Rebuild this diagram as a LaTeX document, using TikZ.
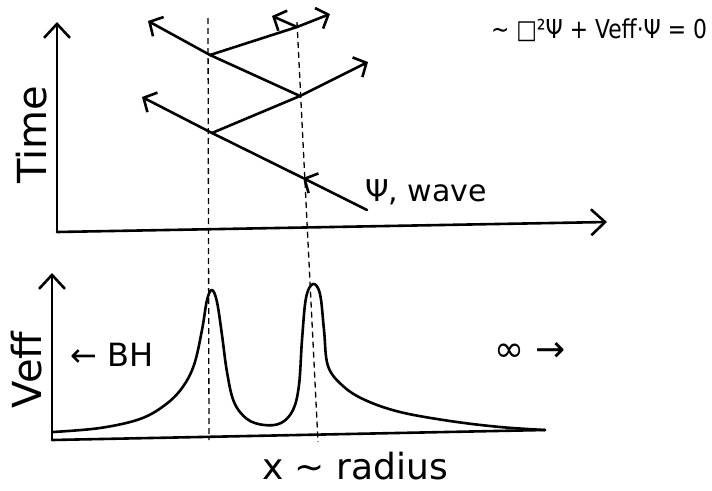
\documentclass[tikz,border=0pt]{standalone}
\usepackage{fontspec}
\setmainfont{DejaVu Sans}
\usetikzlibrary{arrows.meta}
\begin{document}
\begin{tikzpicture}[x=1pt,y=-1pt,
  ink/.style={line width=2.6pt, line cap=round, line join=round},
  axarrow/.style={ink, -{Straight Barb[length=14pt,width=26pt,line width=2.6pt]}},
  wavearrow/.style={ink, -{Straight Barb[length=10pt,width=22pt,line width=2.6pt]}},
  guide/.style={line width=1.3pt, dash pattern=on 6pt off 4pt},
  lbl/.style={font=\fontsize{32}{34}\selectfont, inner sep=0pt}]
\useasboundingbox (0,0) rectangle (712,490);
% axes top
\coordinate (tO) at (57,232);
\coordinate (tY) at (57,22);
\coordinate (tX) at (607,222);
\draw[axarrow] (tO) -- (tY);
\draw[axarrow] (tO) -- (tX);
% axes bottom
\coordinate (bO) at (52,440);
\coordinate (bY) at (52,273);
\coordinate (bX) at (545,430);
\draw[axarrow] (bO) -- (bY);
\draw[ink] (bO) -- (bX);
% dashed guides
\coordinate (d1t) at (208,18);
\coordinate (d1b) at (209,440);
\coordinate (d2t) at (297,22);
\coordinate (d2b) at (318,442);
\draw[guide] (d1t) -- (d1b);
\draw[guide] (d2t) -- (d2b);
% wave
\coordinate (w0) at (367,210);
\coordinate (h1) at (303,178);
\coordinate (r1) at (212,133);
\coordinate (l1) at (142,97);
\coordinate (h2) at (300,96);
\coordinate (o1) at (368,62);
\coordinate (r2) at (210,55);
\coordinate (l2) at (148,21);
\coordinate (h3) at (297,27);
\coordinate (o2) at (330,14);
\coordinate (o3) at (272,16);
\draw[wavearrow] (w0) -- (h1);
\draw[ink] (h1) -- (r1);
\draw[wavearrow] (r1) -- (l1);
\draw[ink] (r1) -- (h2);
\draw[wavearrow] (h2) -- (o1);
\draw[ink] (h2) -- (r2);
\draw[wavearrow] (r2) -- (l2);
\draw[ink] (r2) -- (h3);
\draw[wavearrow] (h3) -- (o2);
\draw[wavearrow] (h3) -- (o3);
% potential curve
\draw[ink] plot[smooth, tension=0.6] coordinates {(53,432) (100,428) (140,419) (165,405) (182,388) (194,365) (202,330) (207,300) (212,290) (217,302) (222,335) (227,372) (234,402) (247,419) (264,425) (281,423) (293,410) (299,385) (302,340) (306,298) (313,284) (320,294) (324,330) (328,366) (343,386) (365,400) (400,412) (450,421) (500,427) (545,430)};
% labels
\node[lbl, rotate=90, font=\fontsize{40}{42}\selectfont] (time) at (32,135) {Time};
\node[lbl, rotate=90, font=\fontsize{40}{42}\selectfont] (veff) at (27,370) {Veff};
\node[lbl] (bh) at (112,355) {← BH};
\node[lbl, font=\fontsize{36}{38}\selectfont] (inf) at (530,352) {∞ →};
\node[lbl, font=\fontsize{36}{38}\selectfont] (xr) at (355,466) {x ∼ radius};
\node[lbl, font=\fontsize{30}{32}\selectfont] (psi) at (426,192) {Ψ, wave};
\node[lbl, font=\fontsize{26}{28}\selectfont, xscale=0.84] (eq) at (599,30) {∼ □²Ψ + Veff·Ψ = 0};
\end{tikzpicture}
\end{document}
